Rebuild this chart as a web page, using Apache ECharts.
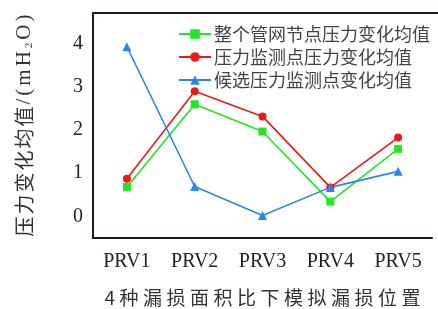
<!DOCTYPE html>
<html><head><meta charset="utf-8">
<script src="https://cdn.jsdelivr.net/npm/echarts@6/dist/echarts.min.js"></script>
<style>html,body{margin:0;padding:0;background:#fff}#c{width:438px;height:309px}</style>
</head><body><div id="c"></div>
<script>
var categories = ['PRV1','PRV2','PRV3','PRV4','PRV5'];
var seriesNames = ['整个管网节点压力变化均值','压力监测点压力变化均值','候选压力监测点变化均值'];
var greenValues = [0.68, 2.59, 1.96, 0.34, 1.56];
var redValues = [0.87, 2.89, 2.31, 0.67, 1.82];
var blueValues = [3.92, 0.69, 0.02, 0.67, 1.04];
var yTicks = [0, 1, 2, 3, 4];
var xAxisTitle = '4种漏损面积比下模拟漏损位置';
var yAxisTitleMain = '压力变化均值';
var yAxisTitleUnit = ['/', '(', 'm', 'H', '2', 'O', ')'];

function spaced(str, tag, lastTag) {
  var cs = str.split('');
  return cs.map(function (c, i) { return '{' + (i === cs.length - 1 && lastTag ? lastTag : tag) + '|' + c + '}'; }).join('');
}
var yName = spaced(yAxisTitleMain, 'a') +
  yAxisTitleUnit.map(function (c, i) {
    if (c === '2') return '{s|2}';
    return '{' + (i === yAxisTitleUnit.length - 1 ? 'bl' : 'b') + '|' + c + '}';
  }).join('');
var xName = spaced(xAxisTitle, 'x', 'xl');

var axisColor = '#231815';
var chart = echarts.init(document.getElementById('c'), null, {renderer:'canvas'});
chart.setOption({
  animation:false,
  backgroundColor:'#fff',
  grid:[{left:93, right:6, top:13, bottom:71, containLabel:false, outerBoundsMode:'none'},
        {left:93, right:0, top:13, height:0, containLabel:false, outerBoundsMode:'none'}],
  legend:{
    orient:'vertical', left:173, top:20, itemWidth:32, itemHeight:12, itemGap:5,
    textStyle:{fontFamily:'Noto Sans CJK SC', fontSize:18, color:'#444', lineHeight:18, padding:[0,0,0,-2]},
    data:seriesNames
  },
  xAxis:[{
    type:'category', data:categories, boundaryGap:true, gridIndex:0,
    axisLine:{onZero:false, lineStyle:{color:axisColor, width:2}},
    axisTick:{inside:true, length:5, alignWithLabel:true, lineStyle:{color:axisColor, width:1.5}},
    axisLabel:{fontFamily:'Liberation Serif', fontSize:20, color:'#222', margin:14},
    name:xName, nameLocation:'middle', nameGap:50,
    nameTextStyle:{rich:{
      x:{fontFamily:'Noto Sans CJK SC', fontSize:19, color:'#333', padding:[0,4.5,0,0]},
      xl:{fontFamily:'Noto Sans CJK SC', fontSize:19, color:'#333'}
    }}
  },{
    type:'value', gridIndex:1, min:0, max:1,
    axisLine:{show:true, onZero:false, lineStyle:{color:axisColor, width:2}},
    axisTick:{show:false}, axisLabel:{show:false}, splitLine:{show:false}
  }],
  yAxis:[{
    type:'value', min:-0.5, max:4.7, gridIndex:0,
    axisLine:{show:true, onZero:false, lineStyle:{color:axisColor, width:2}},
    axisTick:{inside:true, length:5, customValues:yTicks, lineStyle:{color:axisColor, width:1.5}},
    splitLine:{show:false},
    axisLabel:{fontFamily:'Liberation Serif', fontSize:20, color:'#222', margin:10, customValues:yTicks},
    name:yName, nameLocation:'middle', nameGap:58, nameRotate:90,
    nameTextStyle:{rich:{
      a:{fontFamily:'Noto Sans CJK SC', fontSize:20, color:'#333', padding:[0,2,0,0]},
      b:{fontFamily:'Liberation Serif', fontSize:21, color:'#333', padding:[0,3,0,0]},
      bl:{fontFamily:'Liberation Serif', fontSize:21, color:'#333'},
      s:{fontFamily:'Liberation Serif', fontSize:11, color:'#333', padding:[10,3,0,0]}
    }}
  },{
    type:'value', gridIndex:1, show:false
  }],
  series:[
    {name:seriesNames[0], type:'line', data:greenValues, symbol:'rect', symbolSize:8,
     lineStyle:{color:'#22e822', width:1.6}, itemStyle:{color:'#22e822'}},
    {name:seriesNames[1], type:'line', data:redValues, symbol:'circle', symbolSize:8,
     lineStyle:{color:'#f01818', width:1.6}, itemStyle:{color:'#f01818'}},
    {name:seriesNames[2], type:'line', data:blueValues, symbol:'triangle', symbolSize:9,
     lineStyle:{color:'#2a86ee', width:1.6}, itemStyle:{color:'#2a86ee'}}
  ]
});
</script></body></html>
